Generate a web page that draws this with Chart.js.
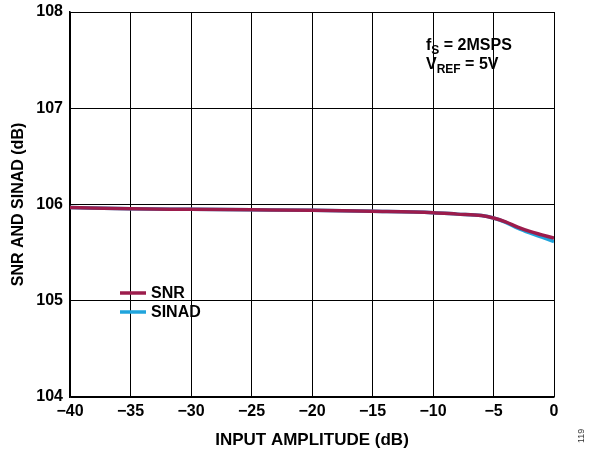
<!DOCTYPE html>
<html>
<head>
<meta charset="utf-8">
<script src="https://cdn.jsdelivr.net/npm/chart.js@4/dist/chart.umd.min.js"></script>
<style>
  html, body { margin: 0; padding: 0; background: #fff; }
  #wrap { width: 589px; height: 451px; }
</style>
</head>
<body>
<div id="wrap"><canvas id="myChart" width="589" height="451"></canvas></div>
<script>
const inputAmplitude = [-40, -35, -30, -25, -20, -15, -10, -8, -6, -5, -4, -3, -2, -1, 0];
const snr = [105.97, 105.955, 105.95, 105.945, 105.94, 105.93, 105.915, 105.90, 105.885, 105.86, 105.82, 105.765, 105.72, 105.685, 105.65];
const sinad = [105.97, 105.955, 105.95, 105.945, 105.94, 105.93, 105.915, 105.90, 105.885, 105.86, 105.815, 105.755, 105.705, 105.66, 105.615];
const xTicks = [-40, -35, -30, -25, -20, -15, -10, -5, 0];
const yTicks = [104, 105, 106, 107, 108];

const FONT = '"Liberation Sans", Arial, sans-serif';
const snrColor = '#9c1c4c';
const sinadColor = '#20a4dc';

function toPoints(xs, ys) {
  return xs.map((x, i) => ({ x: x, y: ys[i] }));
}

// draws text with a subscript part
function subText(ctx, x, y, main, sub, rest) {
  ctx.font = 'bold 16px ' + FONT;
  ctx.fillText(main, x, y);
  x += ctx.measureText(main).width;
  ctx.font = 'bold 12px ' + FONT;
  ctx.fillText(sub, x, y + 4);
  x += ctx.measureText(sub).width;
  ctx.font = 'bold 16px ' + FONT;
  ctx.fillText(rest, x, y);
}

// legend + condition notes drawn inside the plot
const extras = {
  id: 'extras',
  afterDraw(chart) {
    const ctx = chart.ctx;
    ctx.save();
    ctx.fillStyle = '#000';
    ctx.textBaseline = 'alphabetic';

    // legend
    const items = [['SNR', snrColor, 298], ['SINAD', sinadColor, 317]];
    items.forEach(([label, color, y]) => {
      ctx.strokeStyle = color;
      ctx.lineWidth = 3.5;
      ctx.beginPath();
      ctx.moveTo(120, y - 5);
      ctx.lineTo(146, y - 5);
      ctx.stroke();
      ctx.font = 'bold 16px ' + FONT;
      ctx.fillStyle = '#000';
      ctx.fillText(label, 151, y);
    });

    subText(ctx, 426, 50, 'f', 'S', ' = 2MSPS');
    subText(ctx, 426, 69, 'V', 'REF', ' = 5V');

    // figure number
    ctx.translate(584, 443);
    ctx.rotate(-Math.PI / 2);
    ctx.font = '9px ' + FONT;
    ctx.fillStyle = '#333';
    ctx.fillText('119', 0, 0);
    ctx.restore();
  }
};

const ctx = document.getElementById('myChart').getContext('2d');
const chart = new Chart(ctx, {
  type: 'line',
  data: {
    datasets: [
      {
        label: 'SNR',
        data: toPoints(inputAmplitude, snr),
        borderColor: snrColor,
        borderWidth: 3.5,
        pointRadius: 0,
        cubicInterpolationMode: 'monotone',
      },
      {
        label: 'SINAD',
        data: toPoints(inputAmplitude, sinad),
        borderColor: sinadColor,
        borderWidth: 3.5,
        pointRadius: 0,
        cubicInterpolationMode: 'monotone',
      },
    ],
  },
  options: {
    responsive: false,
    animation: false,
    layout: { padding: { top: 12, right: 35, bottom: 0, left: 0 } },
    plugins: {
      legend: { display: false },
      tooltip: { enabled: false },
    },
    scales: {
      x: {
        type: 'linear',
        min: -40,
        max: 0,
        afterBuildTicks: (axis) => { axis.ticks = xTicks.map((v) => ({ value: v })); },
        afterFit: (axis) => { axis.height = 54; axis.paddingLeft = 0; axis.paddingRight = 0; },
        grid: { color: '#000', lineWidth: 1, drawTicks: false },
        border: { color: '#000', width: 1.5 },
        ticks: {
          color: '#000',
          padding: 5,
          font: { family: FONT, size: 16, weight: 'bold' },
          callback: (v) => (v < 0 ? '\u2212' + Math.abs(v) : String(v)),
        },
        title: {
          display: true,
          text: 'INPUT AMPLITUDE (dB)',
          color: '#000',
          padding: { top: 3, bottom: 0 },
          font: { family: FONT, size: 17, weight: 'bold' },
        },
      },
      y: {
        min: 104,
        max: 108,
        afterBuildTicks: (axis) => { axis.ticks = yTicks.map((v) => ({ value: v })); },
        afterFit: (axis) => { axis.width = 70; axis.paddingTop = 0; axis.paddingBottom = 0; },
        grid: { color: '#000', lineWidth: 1, drawTicks: false },
        border: { color: '#000', width: 1.5 },
        ticks: {
          color: '#000',
          padding: 7,
          font: { family: FONT, size: 16, weight: 'bold' },
        },
        title: {
          display: true,
          text: 'SNR AND SINAD (dB)',
          color: '#000',
          padding: { top: 9, bottom: 0 },
          font: { family: FONT, size: 16, weight: 'bold' },
        },
      },
    },
  },
  plugins: [extras],
});
</script>
</body>
</html>
